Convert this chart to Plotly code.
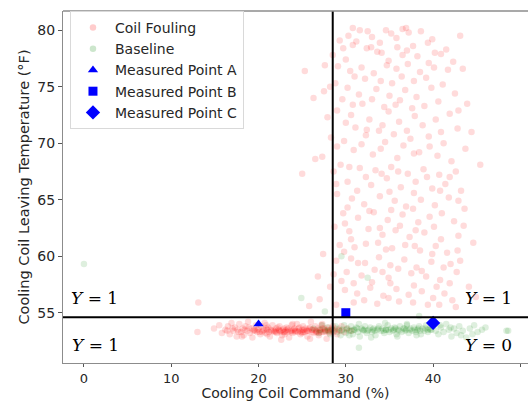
import plotly.graph_objects as go

# Coil fouling samples: (command %, leaving temperature °F)
fouling_upper = [
    (30.8,80.2),(32.5,79.9),(34.6,80.0),(36.5,80.1),(37.2,79.8),(35.2,79.7),(33.0,79.4),(30.3,79.5),(38.6,79.9),(43.1,79.5),(36.9,80.2),
    (31.2,79.0),(29.7,78.4),(30.8,78.7),(32.4,78.4),(33.9,78.9),(35.9,78.5),(37.7,78.6),(39.4,78.9),(41.5,78.3),(34.1,78.0),(33.6,78.1),
    (36.5,77.8),(38.2,77.7),(40.9,77.9),(42.3,77.2),(28.5,77.8),
    (27.6,76.9),(29.1,76.8),(30.5,76.4),(31.8,76.7),(33.2,76.2),(34.7,76.9),(35.8,76.6),(37.1,77.0),(38.5,76.3),(40.1,76.7),(41.7,76.5),
    (43.4,76.6),(32.2,75.7),(34.0,75.5),(36.4,75.9),(39.2,75.8),(25.3,76.4),
    (26.3,74.0),(27.5,74.6),(28.8,75.3),(30.2,74.9),(31.5,74.3),(33.5,74.8),(35.0,74.2),(36.8,74.7),(38.1,74.1),(39.8,74.9),(42.5,74.4),
    (43.9,73.5),(29.6,73.9),(31.9,73.5),(34.4,73.2),(36.2,73.8),(37.6,73.1),(40.6,73.7),(41.9,72.6),
    (27.9,72.3),(29.0,72.9),(30.6,72.5),(32.7,72.1),(34.9,72.8),(36.1,71.9),(37.9,72.4),(38.8,71.6),(40.3,72.1),(42.8,71.3),(44.4,71.0),
    (31.1,71.4),(33.8,71.1),(35.5,70.8),(39.5,70.6),
    (28.3,70.5),(29.8,70.2),(32.3,70.7),(34.5,70.1),(36.6,69.8),(37.4,70.4),(41.2,70.0),(43.7,69.5),(30.9,69.4),(33.1,69.0),(35.9,68.7),
    (38.4,69.2),(40.5,68.9),(42.1,68.4),(26.5,68.6),(27.3,68.8),(25.0,67.3),(28.6,67.5),
    (29.4,68.1),(31.6,67.8),(33.4,67.6),(35.2,67.9),(37.1,67.3),(38.9,67.7),(40.7,67.2),(42.6,67.5),(45.4,68.1),(30.2,66.6),(32.9,66.3),
    (34.7,66.9),(36.3,66.1),(38.0,66.6),(39.9,66.0),(41.4,66.4),(43.2,65.8),
    (29.0,65.5),(30.7,65.1),(32.1,64.6),(33.9,65.3),(35.6,64.9),(36.9,64.4),(38.6,65.0),(40.2,64.5),(41.8,65.2),(43.6,64.2),(29.7,63.8),
    (31.4,63.4),(33.2,63.9),(34.8,63.2),(36.5,63.7),(38.3,63.0),(39.6,63.5),(42.4,63.1),(28.7,62.6),
    (30.4,62.2),(32.6,62.4),(34.2,61.9),(35.7,62.3),(37.3,61.7),(39.0,62.1),(40.9,61.5),(42.9,61.8),(44.6,61.2),(29.3,61.0),(31.0,60.8),
    (33.7,61.2),(35.3,60.7),(36.8,61.0),(38.5,60.5),(40.3,60.9),(41.6,60.3),
    (27.4,60.2),(28.9,59.6),(30.6,59.8),(32.2,59.4),(33.8,59.9),(35.1,59.2),(36.7,59.7),(38.1,59.0),(39.8,59.5),(42.0,59.3),(30.1,58.6),
    (31.8,58.3),(33.3,58.8),(34.9,58.1),(37.5,58.5),(39.2,58.2),(40.8,57.9),(42.7,58.6),(29.5,57.8),(26.8,58.2),
    (28.2,57.3),(29.9,57.0),(31.3,56.7),(32.8,57.2),(34.3,56.5),(35.8,57.1),(37.2,56.6),(38.7,56.9),(40.0,56.3),(41.3,56.7),(42.2,56.1),
    (44.9,56.4),(30.9,55.9),(33.6,55.8),(36.1,56.0),(39.4,55.7),(13.1,55.9),(25.8,55.6),(27.0,56.2),
    # second sweep through the cloud
    (31.6,80.0),(35.8,79.3),(39.9,79.2),(29.3,79.1),(32.9,78.5),(37.0,78.2),(40.2,78.0),(30.0,77.4),(34.9,77.3),(39.5,77.1),
    (31.0,75.9),(35.3,75.3),(37.8,75.5),(41.1,75.2),(28.2,75.0),(30.8,73.4),(33.0,73.9),(35.7,73.4),(39.0,73.3),(42.9,72.9),
    (30.0,71.8),(32.4,71.2),(34.2,71.6),(37.0,71.1),(40.9,71.0),(29.0,69.7),(31.8,69.9),(34.0,69.5),(37.8,69.1),(39.6,69.7),
    (30.4,67.9),(32.3,67.0),(34.1,67.3),(36.0,67.5),(39.3,67.0),(41.9,67.0),(28.9,66.4),(31.3,65.8),(35.0,65.7),(37.8,65.6),
    (40.8,65.8),(42.9,64.9),(30.2,64.3),(32.7,64.0),(35.2,64.1),(37.7,64.2),(41.0,63.8),(29.9,62.9),(33.9,62.5),(36.2,62.7),
    (38.0,62.3),(40.1,62.6),(43.5,62.7),(30.6,61.5),(32.3,61.1),(34.6,60.6),(37.9,60.9),(39.9,60.2),(42.8,60.5),(29.8,60.4),
    (31.4,59.4),(34.2,58.6),(36.0,58.9),(38.7,58.7),(41.2,59.0),(43.1,59.6),(28.6,58.4),(30.9,57.6),(33.0,57.7),(35.1,57.6),
    (37.8,57.4),(40.4,57.3),(41.9,57.6),(32.1,56.1),(34.9,56.3),(37.7,55.9),(40.7,55.7),(28.9,55.7),(42.6,55.5),(44.1,57.3),
]

fouling_band = [
    (13.0,53.3),(14.9,53.6),(15.5,53.9),(15.8,53.2),(16.2,53.5),(16.5,53.8),(16.7,53.1),(16.9,54.1),(17.1,53.4),(17.3,53.7),(17.5,52.9),
    (17.6,53.5),(17.8,54.0),(18.0,53.3),(18.2,53.6),(18.3,53.0),(18.5,53.8),(18.7,53.4),(18.8,54.2),(19.0,53.2),(19.2,53.6),(19.3,52.8),
    (19.5,53.5),(19.7,53.9),(19.8,53.3),(20.0,53.6),(20.2,53.1),(20.3,53.8),(20.5,53.4),(20.7,54.1),(20.8,53.2),(21.0,53.5),(21.1,53.7),
    (21.3,52.9),(21.5,53.4),(21.6,53.9),(21.8,53.3),(22.0,53.6),(22.1,53.2),(22.3,53.5),(22.4,53.8),(22.6,53.4),(22.7,53.0),(22.9,53.6),
    (23.0,53.3),(23.2,53.7),(23.3,53.5),(23.5,52.8),(23.6,53.4),(23.8,53.9),(23.9,53.2),(24.1,53.6),(24.2,53.4),(24.4,54.0),(24.5,53.3),
    (24.7,53.7),(24.8,53.1),(25.0,53.5),(25.1,53.8),(25.3,53.3),(25.4,53.6),(25.6,52.9),(25.7,53.4),(25.9,53.7),(26.0,54.2),(26.2,53.5),
    (26.3,53.2),(26.5,53.8),(26.6,53.4),(26.8,53.6),(26.9,53.0),(27.1,53.5),(27.2,53.9),(27.4,53.3),(27.5,53.6),(27.7,53.4),(27.8,52.7),
    (28.0,53.7),(28.1,53.2),(28.3,53.5),(28.5,53.8),(28.6,53.3),(28.8,53.6),(29.0,53.1),(29.2,53.5),(29.5,53.8),(29.8,53.3),(30.1,53.6),
    (30.6,53.4),
    (16.4,53.4),(17.0,53.6),(17.7,53.3),(18.4,53.5),(18.9,53.7),(19.4,53.4),(19.9,53.5),(20.4,53.3),(20.9,53.6),(21.4,53.5),(21.9,53.4),
    (22.2,53.7),(22.5,53.3),(22.8,53.5),(23.1,53.4),(23.4,53.6),(23.7,53.3),(24.0,53.5),(24.3,53.4),(24.6,53.6),(24.9,53.3),(25.2,53.5),
    (25.5,53.4),(25.8,53.6),(26.1,53.3),(26.4,53.5),(26.7,53.3),(27.0,53.4),(27.3,53.6),(27.6,53.3),(27.9,53.5),(28.2,53.4),(28.4,53.6),
    (28.7,53.4),(29.3,53.4),
    (19.6,53.4),(20.1,53.3),(20.6,53.5),(21.2,53.3),(21.7,53.4),(22.0,53.3),(22.4,53.4),(22.9,53.3),(23.3,53.3),(23.8,53.4),(24.2,53.3),
    (24.7,53.4),(25.1,53.3),(25.6,53.4),(26.1,53.5),(26.6,53.3),(27.1,53.3),(27.6,53.5),(28.1,53.3),(21.0,53.1),(23.0,53.1),(25.0,53.2),
    (26.9,53.2),(22.6,52.6),(25.9,52.7),(18.1,52.9),(20.9,53.9),(23.9,54.0),(27.3,54.0),
]

# Baseline samples
baseline = [
    (26.3,53.6),(26.9,53.2),(27.3,53.9),(27.6,53.4),(27.9,53.7),(28.2,53.1),(28.5,53.5),(28.8,53.8),(29.0,53.3),(29.2,53.6),(29.4,53.0),
    (29.6,53.5),(29.8,53.9),(30.0,53.2),(30.2,53.6),(30.4,53.4),(30.6,53.8),(30.8,53.1),(31.0,53.5),(31.2,53.7),(31.4,53.3),(31.6,52.9),
    (31.8,53.6),(32.0,53.4),(32.2,53.8),(32.4,53.2),(32.6,53.5),(32.8,53.7),(33.0,53.3),(33.2,53.6),(33.4,53.0),(33.6,53.5),(33.8,53.8),
    (34.0,53.4),(34.2,53.6),(34.4,53.2),(34.6,53.5),(34.8,53.9),(35.0,53.3),(35.2,53.6),(35.4,53.4),(35.6,53.7),(35.8,53.1),(36.0,53.5),
    (36.2,53.8),(36.4,53.3),(36.6,53.6),(36.8,53.4),(37.0,53.9),(37.2,53.2),(37.4,53.6),(37.6,53.4),(37.8,53.7),(38.0,53.3),(38.2,53.5),
    (38.4,53.8),(38.6,53.1),(38.8,53.6),(39.0,53.4),(39.2,53.9),(39.4,53.3),(39.6,53.6),(39.8,53.5),(40.0,53.8),(40.3,53.4),(40.6,53.1),
    (40.9,53.7),(41.2,53.3),(41.5,54.0),(41.8,53.5),(42.1,52.9),(42.4,53.6),(42.7,53.2),(43.0,53.8),(43.4,53.4),(43.8,52.8),(44.2,53.6),
    (44.7,53.9),(45.1,53.3),(46.0,53.7),(48.4,53.4),
    (29.5,53.4),(30.1,53.5),(30.7,53.4),(31.3,53.6),(31.9,53.5),(32.5,53.4),(33.1,53.5),(33.7,53.6),(34.3,53.4),(34.9,53.5),(35.5,53.5),
    (36.1,53.4),(36.7,53.6),(37.3,53.5),(37.9,53.5),(38.5,53.4),(39.1,53.6),(39.7,53.5),(30.4,53.0),(32.9,52.8),(35.9,52.9),(38.1,53.0),
    (31.5,54.0),(34.5,54.1),(37.0,54.0),(39.9,54.1),(40.8,53.9),(42.0,53.7),(43.2,53.0),(44.5,53.1),(45.6,53.5),
    (30.9,53.5),(32.1,53.5),(33.3,53.4),(34.6,53.5),(35.7,53.6),(36.9,53.5),(38.3,53.6),(39.4,53.5),(27.0,53.5),(28.0,53.4),
    (0.0,59.3),(24.9,56.3),(27.6,55.1),(29.5,60.0),(32.5,58.1),(38.4,54.7),(31.5,51.9),(48.6,53.4),
]

# Measured points
point_a = (20.0, 54.0)
point_b = (30.0, 55.0)
point_c = (40.0, 54.1)

# Decision thresholds
command_threshold = 28.5
temperature_threshold = 54.6

# Quadrant labels: (x, y, variable, value, anchor)
quadrant_labels = [
    (-1.75, 56.3, "Y", "1", "left"),
    (-1.55, 52.15, "Y", "1", "left"),
    (49.3, 56.3, "Y", "1", "right"),
    (49.3, 52.15, "Y", "0", "right"),
]

fouling = fouling_upper + fouling_band

fig = go.Figure()
fig.add_trace(go.Scatter(
    x=[p[0] for p in fouling], y=[p[1] for p in fouling], mode="markers",
    name="Coil Fouling",
    marker=dict(color="red", size=6.5, opacity=0.14, line=dict(width=0)),
))
fig.add_trace(go.Scatter(
    x=[p[0] for p in baseline], y=[p[1] for p in baseline], mode="markers",
    name="Baseline",
    marker=dict(color="green", size=6.5, opacity=0.13, line=dict(width=0)),
))
fig.add_trace(go.Scatter(
    x=[point_a[0]], y=[point_a[1]], mode="markers", name="Measured Point A",
    marker=dict(color="blue", symbol="triangle-up", size=9, line=dict(width=0)),
))
fig.add_trace(go.Scatter(
    x=[point_b[0]], y=[point_b[1]], mode="markers", name="Measured Point B",
    marker=dict(color="blue", symbol="square", size=9, line=dict(width=0)),
))
fig.add_trace(go.Scatter(
    x=[point_c[0]], y=[point_c[1]], mode="markers", name="Measured Point C",
    marker=dict(color="blue", symbol="diamond", size=11, line=dict(width=0)),
))

fig.add_shape(type="line", xref="x", yref="paper", x0=command_threshold, x1=command_threshold,
              y0=0, y1=1, line=dict(color="black", width=2))
fig.add_shape(type="line", xref="paper", yref="y", x0=0, x1=1,
              y0=temperature_threshold, y1=temperature_threshold, line=dict(color="black", width=2))
# top spine
fig.add_shape(type="line", xref="paper", yref="paper", x0=0, x1=1, y0=1, y1=1,
              line=dict(color="#8c8c8c", width=1.3))

for x, y, var, val, anchor in quadrant_labels:
    fig.add_annotation(
        x=x, y=y, xref="x", yref="y", showarrow=False, xanchor=anchor, yanchor="middle",
        text=f"<i>{var}</i> = {val}",
        font=dict(family="DejaVu Serif", size=17, color="black"),
    )

fig.update_layout(
    width=528, height=401,
    margin=dict(l=63, r=0, t=11, b=38),
    plot_bgcolor="white", paper_bgcolor="white",
    font=dict(family="DejaVu Sans", size=14, color="#262626"),
    showlegend=True,
    legend=dict(
        x=0.015, y=1.0, xanchor="left", yanchor="top",
        bgcolor="rgba(255,255,255,0.85)", bordercolor="#d9d9d9", borderwidth=1,
        font=dict(size=14, color="#262626"), tracegroupgap=0, itemwidth=34,
    ),
    xaxis=dict(
        range=[-2.4, 50.87], tickvals=[0, 10, 20, 30, 40, 50],
        showgrid=False, zeroline=False, showline=True, linecolor="#8c8c8c", linewidth=1.3,
        ticks="outside", ticklen=3, tickcolor="#555", tickfont=dict(size=13),
        title=dict(text="Cooling Coil Command (%)", font=dict(size=14), standoff=0),
    ),
    yaxis=dict(
        range=[50.55, 81.7], tickvals=[55, 60, 65, 70, 75, 80],
        showgrid=False, zeroline=False, showline=True, linecolor="#8c8c8c", linewidth=1.3,
        ticks="outside", ticklen=4, tickcolor="#555", tickfont=dict(size=14),
        title=dict(text="Cooling Coil Leaving Temperature (°F)", font=dict(size=14.5), standoff=4),
    ),
)

fig.write_html("out.html")
